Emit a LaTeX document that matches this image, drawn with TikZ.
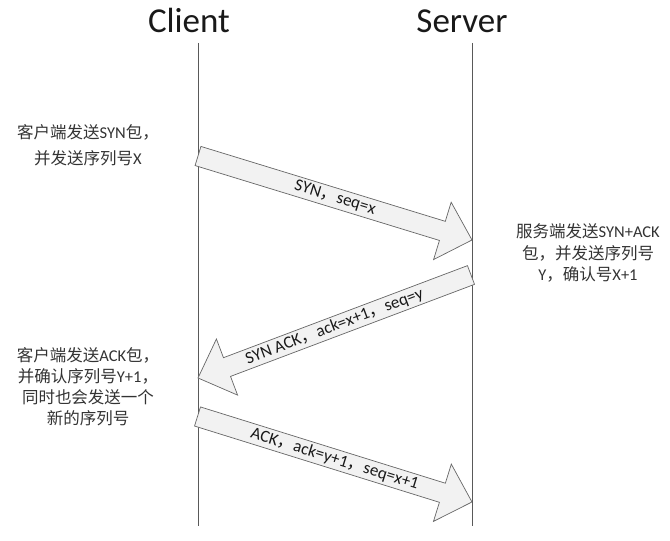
\documentclass[tikz,border=0pt]{standalone}
\usepackage{fontspec}
\setmainfont{Carlito}
\newfontfamily\cjk{Noto Sans CJK SC}
\newcommand\zh[1]{{\cjk #1}}
\begin{document}
\begin{tikzpicture}[x=1pt,y=1pt,
  life/.style={draw=black!65, line width=0.8pt},
  blk/.style={draw=black!60, line width=0.7pt, fill=black!5, line join=miter},
  title/.style={font=\fontsize{35}{40}\selectfont, text=black!90, inner sep=0},
  note/.style={align=center, text=black!80, inner sep=0},
  lbl/.style={font=\fontsize{17}{20}\selectfont, text=black!90, inner sep=0}]
\useasboundingbox (0,0) rectangle (670,541);
% titles and lifelines
\node[title, anchor=base] (client) at (189,508) {Client};
\node[title, anchor=base] (server) at (462,508) {Server};
\coordinate (ct) at (198,498); \coordinate (cb) at (198,15);
\coordinate (st) at (472,498); \coordinate (sb) at (472,15);
\draw[life] (ct) -- (cb);
\draw[life] (st) -- (sb);
% arrow 1: SYN
\begin{scope}[shift={(198,385)}, rotate=-17.04]
  \draw[blk] (0,10) -- (255.6,10) -- (255.6,30) -- (286.6,0) -- (255.6,-30) -- (255.6,-10) -- (0,-10) -- cycle;
  \node[lbl, rotate=-17.04] (syn) at (143.3,0) {SYN\zh{，}seq=x};
\end{scope}
% arrow 2: SYN ACK
\begin{scope}[shift={(471,266)}, rotate=200.67]
  \draw[blk] (0,10) -- (260.8,10) -- (260.8,30) -- (291.8,0) -- (260.8,-30) -- (260.8,-10) -- (0,-10) -- cycle;
  \node[lbl, rotate=20.67] (synack) at (145.9,0) {SYN ACK\zh{，}ack=x+1\zh{，}seq=y};
\end{scope}
% arrow 3: ACK
\begin{scope}[shift={(197.5,124.5)}, rotate=-17.3]
  \draw[blk] (0,10) -- (256.5,10) -- (256.5,30) -- (287.5,0) -- (256.5,-30) -- (256.5,-10) -- (0,-10) -- cycle;
  \node[lbl, rotate=-17.3] (ack) at (143.7,0) {ACK\zh{，}ack=y+1\zh{，}seq=x+1};
\end{scope}
% notes
\node[note, font=\fontsize{16.5}{26}\selectfont] (n1) at (88,396)
  {\zh{客户端发送}SYN\zh{包，}\\\zh{并发送序列号}X};
\node[note, font=\fontsize{16.5}{21.5}\selectfont] (n2) at (588,288)
  {\zh{服务端发送}SYN+ACK\\\zh{包，并发送序列号}\\Y\zh{，确认号}X+1};
\node[note, font=\fontsize{16.5}{21}\selectfont] (n3) at (88,154.5)
  {\zh{客户端发送}ACK\zh{包，}\\\zh{并确认序列号}Y+1\zh{，}\\\zh{同时也会发送一个}\\\zh{新的序列号}};
\end{tikzpicture}
\end{document}
